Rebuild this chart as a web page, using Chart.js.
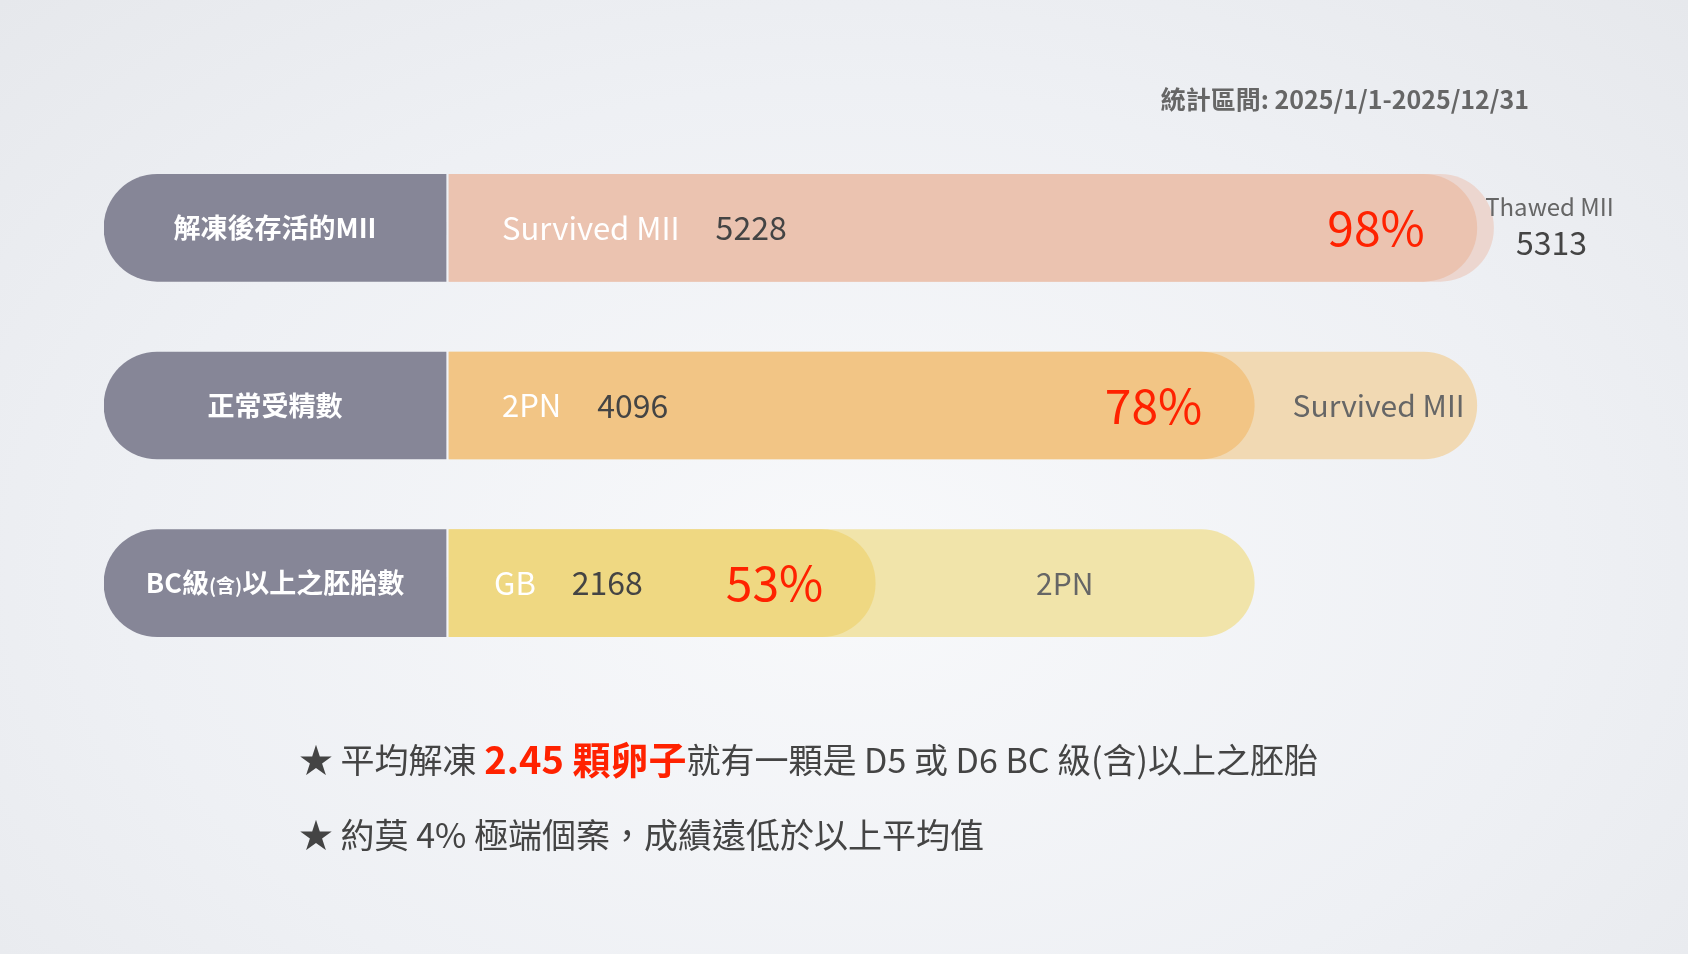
<!DOCTYPE html>
<html><head><meta charset="utf-8">
<script src="https://cdn.jsdelivr.net/npm/chart.js@4"></script>
<style>
html,body{margin:0;padding:0;width:1688px;height:954px;overflow:hidden;
background:radial-gradient(ellipse at 50% 60%,#f8f9fb 0%,#eef0f4 60%,#e6e8ec 100%);}
#w{position:absolute;left:0;top:0;width:1688px;height:954px}
</style></head><body>
<div id="w"><canvas id="c"></canvas></div>
<script>
const rowLabels = ['解凍後存活的MII','正常受精數','BC級(含)以上之胚胎數'];
const frontNames = ['Survived MII','2PN','GB'];
const frontValues = [5228,4096,2168];
const backNames = ['Thawed MII','Survived MII','2PN'];
const backValues = [5313,5228,4096];
const percents = ['98%','78%','53%'];
const title = '統計區間: 2025/1/1-2025/12/31';
const notes = ['平均解凍 ','2.45 顆卵子','就有一顆是 D5 或 D6 BC 級(含)以上之胚胎'];
const note2 = '約莫 4% 極端個案，成績遠低於以上平均值';

const LMIN=-1755, LMAX=6058;
const F="'Noto Sans CJK TC','Noto Sans',sans-serif";

const textPlugin={id:'txt',afterDatasetsDraw(ch){
  const c=ch.ctx,x=ch.scales.x,y=ch.scales.y;
  c.save();c.textBaseline='middle';
  rowLabels.forEach((l,i)=>{
    const cy=y.getPixelForValue(i);
    const cx=(x.getPixelForValue(LMIN)+x.getPixelForValue(-15))/2;
    c.fillStyle='#fff';c.textAlign='center';
    if(i===2){
      c.font='bold 27px '+F;
      const p1='BC級',p2='(含)',p3='以上之胚胎數';
      c.font='bold 27px '+F;const w1=c.measureText(p1).width,w3=c.measureText(p3).width;
      c.font='bold 19px '+F;const w2=c.measureText(p2).width;
      let sx=cx-(w1+w2+w3)/2;c.textAlign='left';
      c.font='bold 27px '+F;c.fillText(p1,sx,cy);sx+=w1;
      c.font='bold 19px '+F;c.fillText(p2,sx,cy+3);sx+=w2;
      c.font='bold 27px '+F;c.fillText(p3,sx,cy);
    } else {c.font='bold 27px '+F;c.fillText(l,cx,cy);}
    const x0=x.getPixelForValue(0);
    c.textAlign='left';c.font='31px '+F;c.fillStyle='#fff';
    c.fillText(frontNames[i],x0+(i===2?45:53),cy);
    const nw=c.measureText(frontNames[i]).width;
    c.fillStyle='#444';c.font='32px '+F;
    c.fillText(String(frontValues[i]),x0+(i===2?45:53)+nw+36,cy);
    const fe=x.getPixelForValue(frontValues[i]);
    c.textAlign='right';c.fillStyle='#ff2200';c.font='48px '+F;
    c.fillText(percents[i],fe-52,cy);
    const be=x.getPixelForValue(backValues[i]);
    c.textAlign='center';c.fillStyle='#666';
    if(i===0){c.font='24px '+F;c.fillText(backNames[0],be+56,cy-21);
      c.fillStyle='#444';c.font='32px '+F;c.fillText(String(backValues[0]),be+58,cy+15);}
    else{c.font='30px '+F;c.fillText(backNames[i],i===1?(fe+be)/2+13:(fe+be)/2,cy);}
  });
  c.textAlign='right';c.fillStyle='#666';c.font='bold 25px '+F;
  c.fillText(title,1529,99);
  c.textAlign='left';c.fillStyle='#444';
  let sx=299;const y1=760;
  c.font='34px '+F;c.fillText('★ ',sx,y1);sx+=c.measureText('★ ').width;
  c.fillText(notes[0],sx,y1);sx+=c.measureText(notes[0]).width;
  c.font='bold 38px '+F;c.fillStyle='#ff2200';c.fillText(notes[1],sx,y1);sx+=c.measureText(notes[1]).width;
  c.font='34px '+F;c.fillStyle='#444';c.fillText(notes[2],sx,y1);
  c.fillText('★ '+note2,299,835);
  c.restore();
}};

new Chart(document.getElementById('c'),{
  type:'bar',
  data:{labels:rowLabels,datasets:[
    {data:frontValues.map(v=>[0,v]),backgroundColor:['#ebc3b0','#f2c585','#efd882'],
     borderRadius:{topRight:54,bottomRight:54},borderSkipped:false,barThickness:107},
    {data:backValues.map(v=>[0,v]),backgroundColor:['#ecd6cf','#f1d9b3','#f1e4aa'],
     borderRadius:{topRight:54,bottomRight:54},borderSkipped:false,barThickness:107},
    {data:rowLabels.map(()=>[LMIN,-15]),backgroundColor:'#868697',
     borderRadius:{topLeft:54,bottomLeft:54},borderSkipped:false,barThickness:107}
  ]},
  options:{indexAxis:'y',responsive:true,maintainAspectRatio:false,animation:false,
    layout:{padding:{left:104,right:48,top:139,bottom:282}},
    plugins:{legend:{display:false},tooltip:{enabled:false}},
    scales:{x:{display:false,min:LMIN,max:LMAX},
      y:{display:false,stacked:true,grid:{display:false}}},
    datasets:{bar:{grouped:false}}
  },
  plugins:[textPlugin]
});
</script></body></html>
